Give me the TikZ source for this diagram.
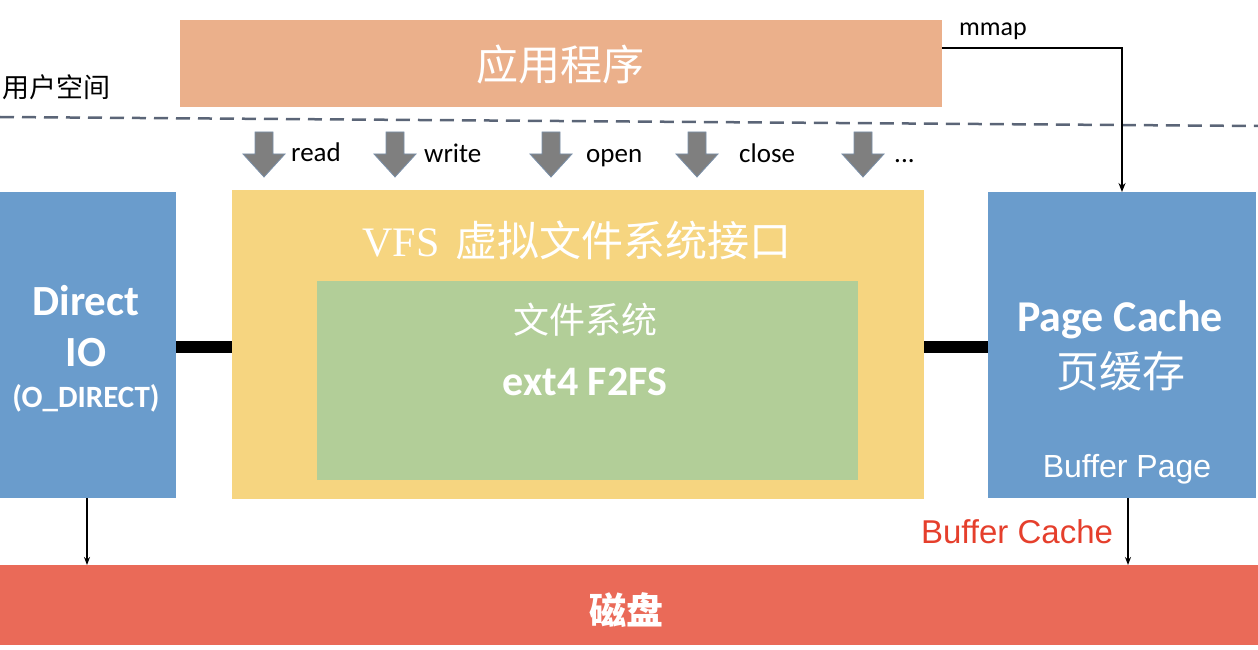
\documentclass[tikz,border=0pt]{standalone}
\usepackage{fontspec}
\setmainfont{Carlito}
\newfontfamily\cjk{Noto Sans CJK SC}
\newfontfamily\helv{Liberation Sans}
\newfontfamily\vfsserif{Liberation Serif}
\usetikzlibrary{arrows.meta}
\definecolor{appc}{HTML}{EBB08B}
\definecolor{vfsc}{HTML}{F6D580}
\definecolor{fsc}{HTML}{B2CE98}
\definecolor{bluec}{HTML}{6A9CCC}
\definecolor{diskc}{HTML}{EA6A58}
\definecolor{grayc}{HTML}{7F7F7F}
\definecolor{agline}{HTML}{7A90AA}
\definecolor{dashc}{HTML}{5B6577}
\definecolor{redc}{HTML}{E53F2C}
\tikzset{
  box/.style={draw=none, inner sep=0, outer sep=0},
  wtxt/.style={text=white, inner sep=0, align=center},
  btxt/.style={text=black, inner sep=0},
  conn/.style={line width=12pt, draw=black},
  thin arrow/.style={line width=1.6pt, -{Stealth[length=8pt,width=6pt]}},
  dnarrow/.pic={\filldraw[fill=grayc, draw=agline, line width=0.8pt]
     (-9,0)--(9,0)--(9,22)--(21,22)--(0,45)--(-21,22)--(-9,22)--cycle;}
}
\begin{document}
\begin{tikzpicture}[x=1pt,y=-1pt]
\useasboundingbox (0,0) rectangle (1258,650);
% application
\node[box, fill=appc, minimum width=762, minimum height=87] (app) at (561,63.5) {};
\node[wtxt, font=\cjk\fontsize{42}{44}\selectfont] (apptxt) at (560,65) {应用程序};
\node[btxt, anchor=west, font=\cjk\fontsize{27}{29}\selectfont] (user) at (2,87) {用户空间};
% dashed separator
\coordinate (dl) at (0,117);
\coordinate (dr) at (1258,126);
\draw[dashc, line width=2.5pt, dash pattern=on 14pt off 8pt] (dl) -- (dr);
% system call arrows
\pic at (264,132) {dnarrow};
\pic at (395,132) {dnarrow};
\pic at (551,132) {dnarrow};
\pic at (697,132) {dnarrow};
\pic at (863,132) {dnarrow};
\begin{scope}[every node/.style={btxt, anchor=base west, font=\fontsize{27}{29}\selectfont}]
\node (read) at (291,161) {read};
\node (write) at (424,163) {write};
\node (open) at (586,163) {open};
\node (close) at (739,163) {close};
\node (dots) at (894,163) {...};
\end{scope}
% VFS
\node[box, fill=vfsc, minimum width=692, minimum height=309] (vfs) at (578,344.5) {};
\node[wtxt, font=\fontsize{42}{44}\selectfont] (vfstxt) at (577,240) {{\vfsserif VFS}\hspace{16pt}{\cjk 虚拟文件系统接口}};
\node[box, fill=fsc, minimum width=541, minimum height=199] (fs) at (587.5,380.5) {};
\node[wtxt, font=\cjk\fontsize{36}{38}\selectfont] (fstxt) at (585,320) {文件系统};
\node[wtxt, font=\fontsize{42}{44}\selectfont\bfseries] (exttxt) at (585,382) {ext4 F2FS};
% Direct IO
\node[box, fill=bluec, minimum width=176, minimum height=306] (dio) at (88,345) {};
\node[wtxt, font=\fontsize{43}{45}\selectfont\bfseries] (diotxt1) at (86,301) {Direct};
\node[wtxt, font=\fontsize{43}{45}\selectfont\bfseries] (diotxt2) at (86,353) {IO};
\node[wtxt, font=\fontsize{31}{33}\selectfont\bfseries] (diotxt3) at (86,398) {(O\_DIRECT)};
% Page cache
\node[box, fill=bluec, minimum width=268, minimum height=306] (pc) at (1122,345) {};
\node[wtxt, font=\fontsize{44}{46}\selectfont\bfseries] (pctxt1) at (1120,320) {Page Cache};
\node[wtxt, font=\cjk\fontsize{43}{45}\selectfont] (pctxt2) at (1121,371) {页缓存};
\node[wtxt, font=\helv\fontsize{32}{34}\selectfont] (bptxt) at (1127,469) {Buffer Page};
% thick connectors
\draw[conn] (dio.east |- 0,347) -- (vfs.west |- 0,347);
\draw[conn] (vfs.east |- 0,347) -- (pc.west |- 0,347);
% mmap
\coordinate (mm1) at (942,48);
\coordinate (mm2) at (1122,48);
\draw[line width=2pt, -{Stealth[length=9pt,width=7pt]}] (mm1) -- (mm2) -- (mm2 |- pc.north);
\node[btxt, font=\fontsize{26}{28}\selectfont] (mmap) at (993,31) {mmap};
% disk
\node[box, fill=diskc, minimum width=1258, minimum height=80] (disk) at (629,605) {};
\node[wtxt, font=\cjk\fontsize{37}{39}\selectfont\bfseries] (disktxt) at (626,610) {磁盘};
% arrows to disk
\draw[thin arrow] (dio.south -| 87,0) -- (disk.north -| 87,0);
\draw[thin arrow] (pc.south -| 1128,0) -- (disk.north -| 1128,0);
\node[text=redc, inner sep=0, font=\helv\fontsize{33}{35}\selectfont] (bctxt) at (1017,532) {Buffer Cache};
\end{tikzpicture}
\end{document}
